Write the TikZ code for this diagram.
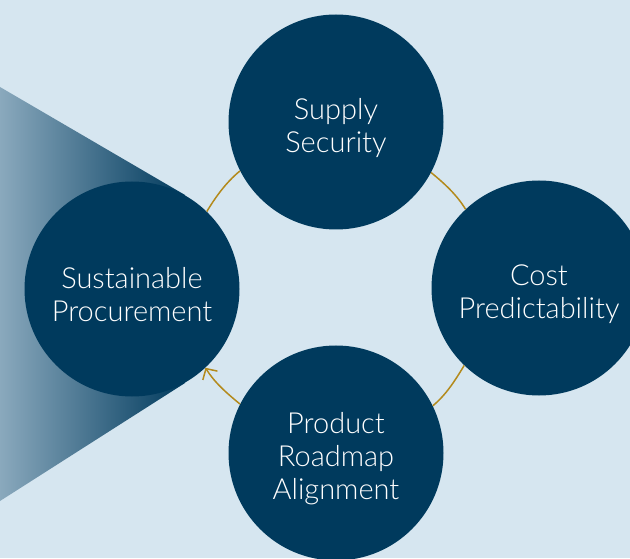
\documentclass[tikz,border=0pt]{standalone}
\usepackage{fontspec}
\IfFontExistsTF{Lato Light}{\setmainfont{Lato Light}}{\setmainfont{Lato}}
\usetikzlibrary{arrows.meta}
\definecolor{navy}{HTML}{003A5D}
\definecolor{paleblue}{HTML}{D6E6F0}
\definecolor{gold}{HTML}{B38A1C}
\definecolor{fadeblue}{HTML}{8AA9BD}

\begin{document}
\begin{tikzpicture}[x=1pt,y=1pt,
    topic/.style={circle,fill=navy,minimum size=215pt,inner sep=0pt},
    topictext/.style={text=white,align=center,yshift=-6pt,font=\fontsize{29}{33}\selectfont},
    ring/.style={draw=gold,line width=1.5pt,looseness=0.86}]
            \useasboundingbox (0,0) rectangle (630,558);
            \clip (0,0) rectangle (630,558);
            \fill[paleblue] (0,0) rectangle (630,558);

            % fading wedge behind the left circle
            \shade[left color=fadeblue,right color=navy] (0,471) -- (185,363) -- (185,175) -- (0,57) -- cycle;
            \node (cut) at (3.5,340) [anchor=base east,text=black!85,font=\fontsize{21}{25}\selectfont] {n};

            \node (sup) at (336,436) [topic,label={[topictext]center:Supply\\Security}] {};
            \node (cost) at (539,270) [topic,label={[topictext]center:Cost\\Predictability}] {};
            \node (prod) at (336,105) [topic,label={[topictext]center:Product\\Roadmap\\Alignment}] {};
            \node (sust) at (132,269) [topic,label={[topictext]center:Sustainable\\Procurement}] {};

            % ring pieces, clockwise
            \draw[ring] (sust.46.6) to[out=58.9,in=219.3] (sup.207.2);
            \draw[ring] (sup.332.8) to[out=320.7,in=121.2] (cost.133.3);
            \draw[ring] (cost.226.7) to[out=238.8,in=39.4] (prod.26.8);
            \draw[ring,-{Straight Barb[length=8pt,width=17pt]}] (prod.153.2) to[out=140.6,in=301.1] (sust.313.4);

\end{tikzpicture}
\end{document}
